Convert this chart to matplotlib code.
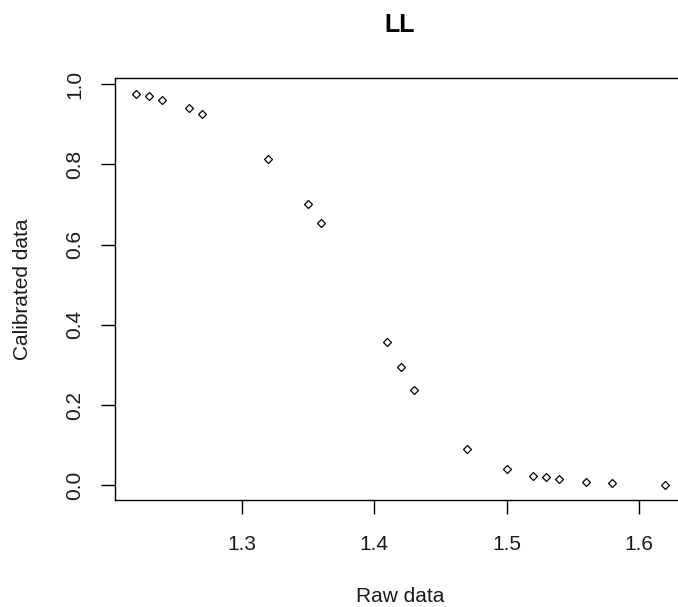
import matplotlib
matplotlib.use("Agg")
import matplotlib.pyplot as plt

raw = [1.22, 1.23, 1.24, 1.26, 1.27, 1.32, 1.35, 1.36, 1.41, 1.42, 1.43,
       1.47, 1.50, 1.52, 1.53, 1.54, 1.56, 1.58, 1.62]
calibrated = [0.976, 0.970, 0.962, 0.940, 0.926, 0.814, 0.701, 0.655, 0.358,
              0.294, 0.238, 0.090, 0.041, 0.023, 0.021, 0.016, 0.008, 0.005,
              0.0015]
xticks = [1.3, 1.4, 1.5, 1.6]
yticks = [0.0, 0.2, 0.4, 0.6, 0.8, 1.0]

plt.rcParams["font.family"] = ["Liberation Sans", "DejaVu Sans"]

W, H = 678, 607
fig = plt.figure(figsize=(W / 100, H / 100), dpi=100)
# plot region in pixels: left 114.6, right 686.6 (cropped), top 78.3, bottom 500.3
ax = fig.add_axes([114.6 / W, (H - 500.3) / H, (686.6 - 114.6) / W, (500.3 - 78.3) / H])

ax.plot(raw, calibrated, linestyle="none", marker="D", markersize=4.4,
        markerfacecolor="white", markeredgecolor="black", markeredgewidth=0.9)

# R-style 4% range extension
xr = max(raw) - min(raw)
yr = max(calibrated) - min(calibrated)
ax.set_xlim(min(raw) - 0.04 * xr, max(raw) + 0.04 * xr)
ax.set_ylim(min(calibrated) - 0.04 * yr, max(calibrated) + 0.04 * yr)

ax.set_xticks(xticks)
ax.set_xticklabels([f"{t:.1f}" for t in xticks])
ax.set_yticks(yticks)
ax.set_yticklabels([f"{t:.1f}" for t in yticks], rotation=90, va="center")

ax.tick_params(direction="out", length=10, width=1.0, labelsize=15, pad=12,
               color="black", labelcolor="#1a1a1a")
ax.tick_params(axis="x", pad=15)
for s in ax.spines.values():
    s.set_linewidth(1.0)
    s.set_color("black")

fig.text(400 / W, 1 - 25 / H, "LL", ha="center", va="center",
         fontsize=18, fontweight="bold")
fig.text(400 / W, 1 - 596 / H, "Raw data", ha="center", va="center",
         fontsize=15, color="#1a1a1a")
fig.text(23 / W, 1 - 289 / H, "Calibrated data", ha="center", va="center",
         rotation=90, fontsize=15, color="#1a1a1a")

fig.savefig("out.png", dpi=100)
